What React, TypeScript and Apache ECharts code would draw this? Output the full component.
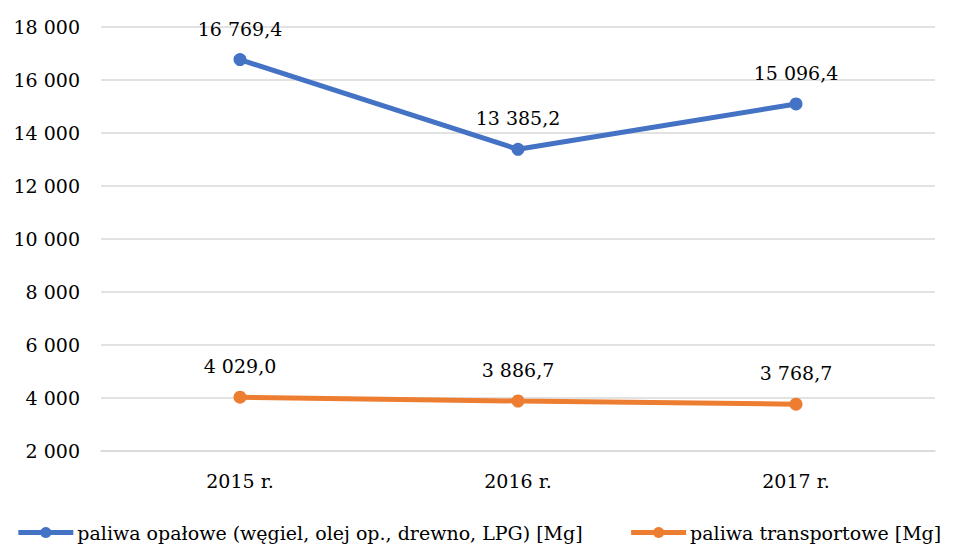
import React, { useEffect, useRef } from "react";
import * as echarts from "echarts";

const categories = ["2015 r.", "2016 r.", "2017 r."];
const heatingFuels = [16769.4, 13385.2, 15096.4];
const transportFuels = [4029.0, 3886.7, 3768.7];
const seriesNames = [
  "paliwa opałowe (węgiel, olej op., drewno, LPG) [Mg]",
  "paliwa transportowe [Mg]",
];

const FONT = "DejaVu Serif";
const FS = 19;

function fmtThousands(v: number, decimals: number): string {
  const s = v.toFixed(decimals);
  const [intPart, dec] = s.split(".");
  const withSpaces = intPart.replace(/\B(?=(\d{3})+(?!\d))/g, " ");
  return dec !== undefined ? withSpaces + "," + dec : withSpaces;
}

export default function App() {
  const ref = useRef<HTMLDivElement>(null);
  useEffect(() => {
    if (!ref.current) return;
    const chart = echarts.init(ref.current, undefined, { renderer: "svg" });
    const labelCfg = {
      show: true,
      position: "top" as const,
      distance: 15,
      color: "#000",
      fontFamily: FONT,
      fontSize: FS,
      formatter: (p: any) => fmtThousands(p.value, 1),
    };
    chart.setOption({
      animation: false,
      backgroundColor: "#fff",
      textStyle: { fontFamily: FONT },
      grid: { left: 101, right: 22, top: 27, bottom: 94 },
      xAxis: {
        type: "category",
        data: categories,
        boundaryGap: true,
        axisLine: { show: true, lineStyle: { color: "#d9d9d9", width: 1.5 } },
        axisTick: { show: false },
        axisLabel: { color: "#000", fontFamily: FONT, fontSize: FS, margin: 20 },
      },
      yAxis: {
        type: "value",
        min: 2000,
        max: 18000,
        interval: 2000,
        axisLine: { show: false },
        axisTick: { show: false },
        splitLine: { lineStyle: { color: "#d9d9d9", width: 1.5 } },
        axisLabel: {
          color: "#000",
          fontFamily: FONT,
          fontSize: FS,
          margin: 21,
          formatter: (v: number) => fmtThousands(v, 0),
        },
      },
      legend: {
        bottom: 3,
        left: "center",
        width: 950,
        padding: 0,
        itemWidth: 55,
        itemHeight: 14,
        itemGap: 46,
        lineStyle: { width: 5 },
        textStyle: { color: "#000", fontFamily: FONT, fontSize: FS, padding: [0, 0, 0, -1] },
        data: seriesNames,
      },
      series: [
        {
          name: seriesNames[0],
          type: "line",
          data: heatingFuels,
          symbol: "circle",
          symbolSize: 13,
          color: "#4472C4",
          lineStyle: { width: 5, color: "#4472C4" },
          itemStyle: { color: "#4472C4" },
          label: labelCfg,
        },
        {
          name: seriesNames[1],
          type: "line",
          data: transportFuels,
          symbol: "circle",
          symbolSize: 13,
          color: "#ED7D31",
          lineStyle: { width: 5, color: "#ED7D31" },
          itemStyle: { color: "#ED7D31" },
          label: labelCfg,
        },
      ],
    });
    return () => chart.dispose();
  }, []);
  return (
    <div
      ref={ref}
      style={{ position: "absolute", left: 0, top: 0, width: 957, height: 545 }}
    />
  );
}
